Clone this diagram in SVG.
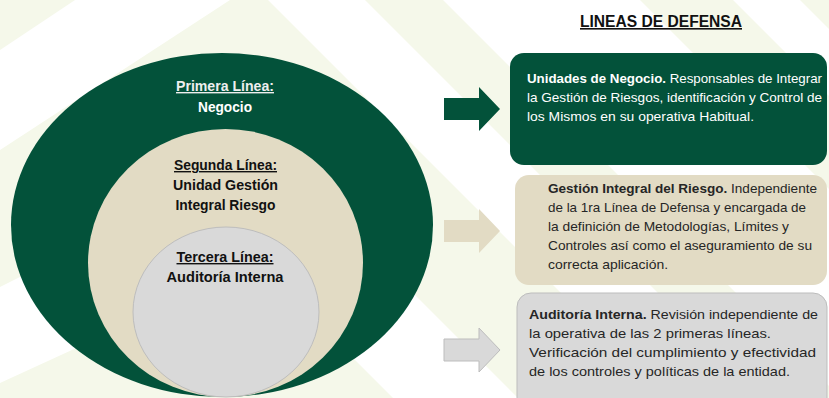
<svg xmlns="http://www.w3.org/2000/svg" width="829" height="398" viewBox="0 0 829 398">
<style>
.bg{fill:#F5F8EA}
.t{font-family:"Liberation Sans",Arial,sans-serif}
.lbl{font-family:"Liberation Sans",Arial,sans-serif;font-size:14px;font-weight:bold;text-anchor:middle}
.box{font-family:"Liberation Sans",Arial,sans-serif;font-size:13px}
.b{font-weight:bold}
.u{text-decoration:underline}
</style>
<defs>
<path id="arr" d="M0,11 H35 V0 L56,22 L35,44 V33 H0 Z"/>
</defs>
<rect width="829" height="398" fill="#FFFFFF"/>
<g id="background">
<polygon class="bg" points="0,0 75,0 0,50"/>
<polygon class="bg" points="0,150 230,0 268,0 666,398 518,398 271,151 0,287"/>
<polygon class="bg" points="0,383 259,264 393,398 0,398"/>
<polygon class="bg" points="365,0 443,0 841,398 763,398"/>
<polygon class="bg" points="640,0 733,0 829,96 829,189"/>
<polygon class="bg" points="800,0 829,0 829,29"/>
</g>
<g id="circles">
<g id="primera-linea">
<ellipse cx="222" cy="225" rx="211" ry="172" fill="#03523A"/>
<text class="lbl u" x="225" y="91" fill="#EEEEEE" textLength="98" lengthAdjust="spacingAndGlyphs">Primera Línea:</text>
<text class="lbl" x="225" y="112" fill="#FFFFFF" textLength="54" lengthAdjust="spacingAndGlyphs">Negocio</text>
</g>
<g id="segunda-linea">
<ellipse cx="225.5" cy="263" rx="137.5" ry="134" fill="#E2DBC4"/>
<text class="lbl u" x="225.5" y="170" fill="#111111" textLength="103" lengthAdjust="spacingAndGlyphs">Segunda Línea:</text>
<text class="lbl" x="225.5" y="190" fill="#111111" textLength="105" lengthAdjust="spacingAndGlyphs">Unidad  Gestión</text>
<text class="lbl" x="225.5" y="210" fill="#111111" textLength="100" lengthAdjust="spacingAndGlyphs">Integral Riesgo</text>
</g>
<g id="tercera-linea">
<ellipse cx="226" cy="312" rx="93" ry="85" fill="#D9D9D9" stroke="#BDBDBD" stroke-width="1"/>
<text class="lbl u" x="225" y="262" fill="#111111" textLength="97" lengthAdjust="spacingAndGlyphs">Tercera Línea:</text>
<text class="lbl" x="225" y="282" fill="#111111" textLength="117" lengthAdjust="spacingAndGlyphs">Auditoría Interna</text>
</g>
</g>
<g id="title">
<text class="t b u" x="580" y="27" font-size="16" fill="#111111" textLength="162" lengthAdjust="spacingAndGlyphs">LINEAS DE DEFENSA</text>
</g>
<g id="connectors">
<use href="#arr" x="444" y="87" fill="#03523A"/>
<use href="#arr" x="444" y="209" fill="#E2DBC4"/>
<use href="#arr" x="444" y="328" fill="#D9D9D9" stroke="#BDBDBD" stroke-width="1"/>
</g>
<g id="box-negocio">
<rect x="510" y="53" width="317" height="112" rx="14" fill="#03523A"/>
<text class="box" fill="#FFFFFF">
<tspan x="527" y="83" textLength="295" lengthAdjust="spacingAndGlyphs"><tspan class="b">Unidades de Negocio.</tspan> Responsables de Integrar</tspan>
<tspan x="527" y="102" textLength="295" lengthAdjust="spacingAndGlyphs">la Gestión de Riesgos, identificación y Control de</tspan>
<tspan x="527" y="121" textLength="227" lengthAdjust="spacingAndGlyphs">los Mismos en su operativa Habitual.</tspan>
</text>
</g>
<g id="box-riesgo">
<rect x="515" y="175" width="312" height="110" rx="14" fill="#E2DBC4"/>
<text class="box" fill="#262626">
<tspan x="548" y="193" textLength="269" lengthAdjust="spacingAndGlyphs"><tspan class="b">Gestión Integral del Riesgo.</tspan> Independiente</tspan>
<tspan x="548" y="212" textLength="258" lengthAdjust="spacingAndGlyphs">de la 1ra Línea de Defensa y encargada de</tspan>
<tspan x="548" y="231" textLength="241" lengthAdjust="spacingAndGlyphs">la definición de Metodologías, Límites y</tspan>
<tspan x="548" y="250" textLength="264" lengthAdjust="spacingAndGlyphs">Controles así como el aseguramiento de su</tspan>
<tspan x="548" y="269" textLength="120" lengthAdjust="spacingAndGlyphs">correcta aplicación.</tspan>
</text>
</g>
<g id="box-auditoria">
<rect x="517" y="293" width="310" height="125" rx="14" fill="#D9D9D9" stroke="#BDBDBD" stroke-width="1"/>
<text class="box" fill="#262626">
<tspan x="529" y="319" textLength="289" lengthAdjust="spacingAndGlyphs"><tspan class="b">Auditoría Interna.</tspan> Revisión independiente de</tspan>
<tspan x="529" y="338" textLength="242" lengthAdjust="spacingAndGlyphs">la operativa de las 2 primeras líneas.</tspan>
<tspan x="529" y="357" textLength="287" lengthAdjust="spacingAndGlyphs">Verificación del cumplimiento y efectividad</tspan>
<tspan x="529" y="376" textLength="261" lengthAdjust="spacingAndGlyphs">de los controles y políticas de la entidad.</tspan>
</text>
</g>
</svg>
